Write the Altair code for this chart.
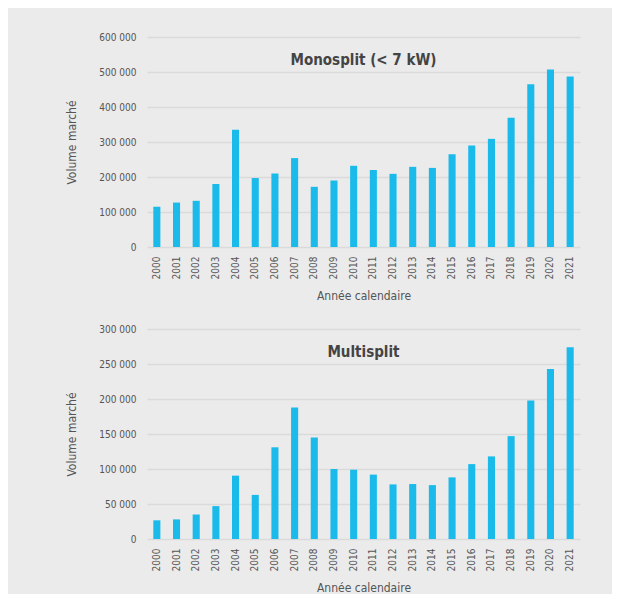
import altair as alt
import pandas as pd

years = [str(y) for y in range(2000, 2022)]
mono = [115000, 127000, 132000, 180000, 335000, 197000, 210000, 254000, 172000, 190000,
        232000, 220000, 209000, 229000, 226000, 265000, 290000, 309000, 369000, 465000,
        507000, 487000]
multi = [26700, 28000, 35000, 47000, 90500, 63000, 131000, 188000, 145000, 100000,
         99000, 92000, 78000, 78500, 77000, 88000, 107000, 118000, 147000, 198000,
         243000, 274000]
titles = ["Monosplit (< 7 kW)", "Multisplit"]
y_max = [600000, 300000]
y_step = [100000, 50000]

FONT = "DejaVu Sans Condensed"
TXT = "#555555"
BAR = "#1ABBEB"
BG = "#EBEBEB"

fmt_expr = "replace(format(datum.value, ',d'), /,/g, ' ')"


def panel(vals, title, ymax, ystep):
    df = pd.DataFrame({"year": years, "value": vals})
    return alt.Chart(df, title=alt.TitleParams(
        title, anchor="middle", fontSize=15, fontWeight="bold", font=FONT,
        color="#444444", dy=40)).mark_bar(color=BAR).encode(
        x=alt.X("year:N", title="Année calendaire",
                scale=alt.Scale(paddingInner=0.64, paddingOuter=0.32),
                axis=alt.Axis(labelAngle=270, labelPadding=9, titlePadding=12,
                              domain=False, ticks=False, grid=False)),
        y=alt.Y("value:Q", title="Volume marché",
                scale=alt.Scale(domain=[0, ymax], nice=False),
                axis=alt.Axis(values=list(range(0, ymax + 1, ystep)),
                              labelExpr=fmt_expr, labelPadding=11, titlePadding=20,
                              domain=False, ticks=False, grid=True)),
    ).properties(width=433, height=210)


top = panel(mono, titles[0], y_max[0], y_step[0])
bottom = panel(multi, titles[1], y_max[1], y_step[1])

chart = alt.vconcat(top, bottom, spacing=22).properties(
    background=BG,
    padding={"left": 57, "top": 24, "right": 32, "bottom": 0},
).configure_view(stroke=None).configure_axis(
    labelFont=FONT, titleFont=FONT, labelColor=TXT, titleColor=TXT,
    labelFontSize=10, titleFontSize=12, titleFontWeight="normal",
    gridColor="#DADADA", gridWidth=1.5,
)

chart.save("out.html", embed_options={"renderer": "svg", "actions": False})
